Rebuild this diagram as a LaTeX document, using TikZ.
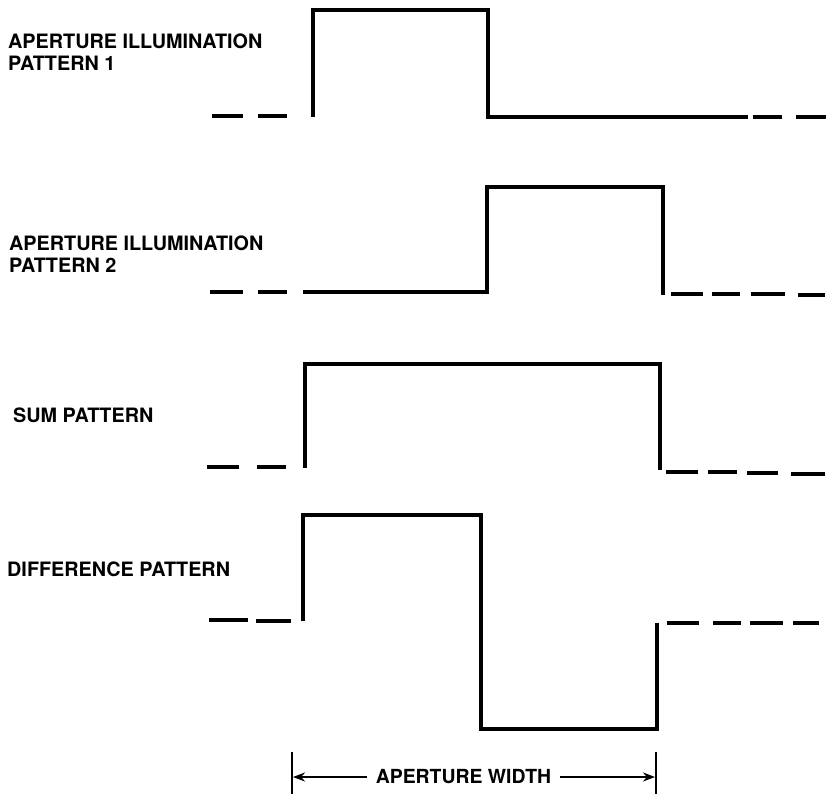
\documentclass[tikz,border=0pt]{standalone}
\usepackage{fontspec}
\setmainfont{TeX Gyre Heros}
\usetikzlibrary{arrows.meta}
\tikzset{
  wave/.style={line width=3.3pt, line join=miter, line cap=butt},
  lbl/.style={anchor=north west, inner sep=0pt, align=left, font=\fontsize{19.8}{22}\selectfont\bfseries},
  tick/.style={line width=2.6pt},
  dim/.style={line width=2.2pt, -{Stealth[length=12pt,width=9pt]}}
}
\begin{document}
\begin{tikzpicture}[x=1pt,y=-1pt]
\path[use as bounding box] (0,0) rectangle (826,794);
% labels
\node[lbl] (l1) at (8,34) {APERTURE ILLUMINATION\\PATTERN 1};
\node[lbl] (l2) at (9,236) {APERTURE ILLUMINATION\\PATTERN 2};
\node[lbl] (l3) at (13,408) {SUM PATTERN};
\node[lbl] (l4) at (7,562) {DIFFERENCE PATTERN};
% pattern 1
\draw[wave] (212,116)--(243,116) (258,116)--(287,116);
\draw[wave] (313,117) -- (313,10) -- (488,10) -- (488,117) -- (748,117);
\draw[wave] (753,117)--(782,117) (796,117)--(826,117);
% pattern 2
\draw[wave] (210,292)--(243,292) (258,292)--(287,292);
\draw[wave] (303,292) -- (487,292) -- (487,187) -- (663,187) -- (663,295);
\draw[wave] (671,294)--(703,294) (712,294)--(740,294) (751,294)--(785,294) (798,295)--(825,295);
% sum pattern
\draw[wave] (207,467)--(239,467) (257,467)--(286,467);
\draw[wave] (305,468) -- (305,364) -- (660,364) -- (660,470);
\draw[wave] (666,472)--(698,472) (708,472)--(737,472) (747,473)--(778,473) (791,474)--(825,474);
% difference pattern
\draw[wave] (209,620)--(248,620) (256,621)--(291,621);
\draw[wave] (303,621) -- (303,515) -- (481,515) -- (481,729) -- (657,729) -- (657,623);
\draw[wave] (667,623)--(699,623) (713,623)--(741,623) (750,623)--(783,623) (793,623)--(819,623);
% aperture width dimension
\coordinate (lt) at (293,777);
\coordinate (rt) at (655,777);
\draw[tick] (292,752) -- (292,794);
\draw[tick] (656,752) -- (656,794);
\node[font=\fontsize{19.4}{22}\selectfont\bfseries, inner xsep=9pt, inner ysep=0pt, anchor=base] (aw) at (463.5,783) {APERTURE WIDTH};
\draw[dim] (aw.west |- lt) -- (lt);
\draw[dim] (aw.east |- rt) -- (rt);
\end{tikzpicture}
\end{document}
